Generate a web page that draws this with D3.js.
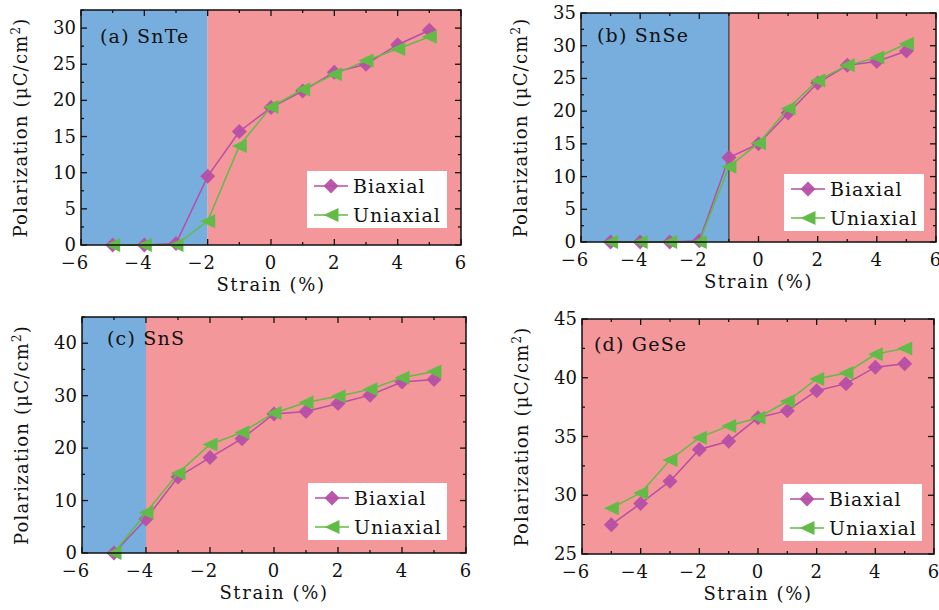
<!DOCTYPE html>
<html>
<head>
<meta charset="utf-8">
<script src="https://cdn.jsdelivr.net/npm/d3@7"></script>
<style>
  body { margin: 0; background: #fff; }
  text { font-family: "DejaVu Serif", serif; fill: #111; }
</style>
</head>
<body>
<div id="root"></div>
<script>
// Data
const strain = [-5, -4, -3, -2, -1, 0, 1, 2, 3, 4, 5];

const snteBiaxial = [0, 0, 0.2, 9.5, 15.7, 19.0, 21.3, 23.9, 25.0, 27.7, 29.7];
const snteUniaxial = [0, 0, 0, 3.3, 13.7, 19.1, 21.5, 23.6, 25.5, 27.1, 28.8];

const snseBiaxial = [0, 0, 0, 0.2, 12.9, 15.0, 19.7, 24.3, 27.0, 27.6, 29.2];
const snseUniaxial = [0, 0, 0, 0, 11.5, 15.1, 20.4, 24.7, 27.0, 28.2, 30.3];

const snsBiaxial = [0, 6.5, 14.5, 18.2, 21.8, 26.5, 27.0, 28.5, 30.1, 32.6, 33.1];
const snsUniaxial = [0, 7.7, 15.2, 20.7, 23.0, 26.7, 28.7, 29.9, 31.2, 33.4, 34.6];

const geseBiaxial = [27.5, 29.3, 31.2, 33.9, 34.6, 36.6, 37.2, 38.9, 39.5, 40.9, 41.2];
const geseUniaxial = [28.9, 30.2, 33.0, 34.9, 35.9, 36.6, 38.0, 39.9, 40.4, 42.0, 42.5];

const panelLabels = ['(a) SnTe', '(b) SnSe', '(c) SnS', '(d) GeSe'];
const transitions = [-2, -1, -4, null];
const xTicks = [-6, -4, -2, 0, 2, 4, 6];
const yDomains = [[0, 32.5], [0, 35], [0, 45], [25, 45]];
const yTickSteps = [5, 5, 10, 5];
const seriesNames = ['Biaxial', 'Uniaxial'];

// Styles
const width = 939;
const height = 610;
const blue = '#77aedd';
const pink = '#f4979a';
const magenta = '#b64fa6';
const green = '#62bb47';

const svg = d3.select('#root')
  .append('svg')
  .attr('width', width)
  .attr('height', height);

// plot frames in pixels
const frames = [
  { x: 81, y: 10, w: 380, h: 235 },
  { x: 581, y: 13, w: 355, h: 229 },
  { x: 82, y: 317, w: 384, h: 236 },
  { x: 582, y: 319, w: 352, h: 235 }
];

const labelPos = [[100, 43], [597, 42], [107, 345], [594, 351]];
const legendBox = [
  { x: 307, y: 171, w: 140, h: 57 },
  { x: 784, y: 174, w: 140, h: 57 },
  { x: 308, y: 483, w: 139, h: 57 },
  { x: 783, y: 484, w: 139, h: 57 }
];

const allData = [
  [snteBiaxial, snteUniaxial],
  [snseBiaxial, snseUniaxial],
  [snsBiaxial, snsUniaxial],
  [geseBiaxial, geseUniaxial]
];

const diamondPath = (w, h) => `M0,${-h}L${w},0L0,${h}L${-w},0Z`;
const triPath = (w, h) => `M${-w},0L${w},${-h}L${w},${h}Z`;

function drawMarker(g, kind, x, y) {
  g.append('path')
    .attr('d', kind === 0 ? diamondPath(7.5, 7.5) : triPath(7.5, 7))
    .attr('transform', `translate(${x},${y})`)
    .attr('fill', kind === 0 ? magenta : green)
    .attr('opacity', kind === 0 ? 0.95 : 1);
}

function drawPanel(i) {
  const f = frames[i];
  const g = svg.append('g').attr('transform', `translate(${f.x},${f.y})`);

  const x = d3.scaleLinear().domain([-6, 6]).range([0, f.w]);
  const y = d3.scaleLinear().domain(yDomains[i]).range([f.h, 0]);

  // background regions
  const t = transitions[i];
  if (t !== null) {
    g.append('rect')
      .attr('x', 0).attr('y', 0)
      .attr('width', x(t)).attr('height', f.h)
      .attr('fill', blue);
  }
  g.append('rect')
    .attr('x', t !== null ? x(t) : 0).attr('y', 0)
    .attr('width', t !== null ? f.w - x(t) : f.w).attr('height', f.h)
    .attr('fill', pink);
  if (t !== null && i === 1) {
    g.append('line')
      .attr('x1', x(t)).attr('x2', x(t))
      .attr('y1', 0).attr('y2', f.h)
      .attr('stroke', '#222').attr('stroke-width', 1);
  }

  // ticks (inward, all sides)
  const [y0, y1] = yDomains[i];
  const step = yTickSteps[i];
  const yMajor = d3.range(Math.ceil(y0 / step) * step, y1 + 0.001, step);
  const yMinor = d3.range(y0 + step / 2, y1 + 0.001, step).filter(v => yMajor.indexOf(v) < 0);
  const xMinor = d3.range(-5, 6, 2);

  const tk = g.append('g').attr('stroke', '#111').attr('stroke-width', 1.3);
  xTicks.forEach(v => {
    tk.append('line').attr('x1', x(v)).attr('x2', x(v)).attr('y1', f.h).attr('y2', f.h - 6);
    tk.append('line').attr('x1', x(v)).attr('x2', x(v)).attr('y1', 0).attr('y2', 6);
  });
  xMinor.forEach(v => {
    tk.append('line').attr('x1', x(v)).attr('x2', x(v)).attr('y1', f.h).attr('y2', f.h - 3);
    tk.append('line').attr('x1', x(v)).attr('x2', x(v)).attr('y1', 0).attr('y2', 3);
  });
  yMajor.forEach(v => {
    tk.append('line').attr('x1', 0).attr('x2', 6).attr('y1', y(v)).attr('y2', y(v));
    tk.append('line').attr('x1', f.w).attr('x2', f.w - 6).attr('y1', y(v)).attr('y2', y(v));
  });
  yMinor.forEach(v => {
    tk.append('line').attr('x1', 0).attr('x2', 3).attr('y1', y(v)).attr('y2', y(v));
    tk.append('line').attr('x1', f.w).attr('x2', f.w - 3).attr('y1', y(v)).attr('y2', y(v));
  });

  // tick labels
  g.append('g').selectAll('text')
    .data(xTicks)
    .join('text')
      .attr('x', d => x(d) - (d < 0 ? 6 : 0))
      .attr('y', f.h + 24)
      .attr('text-anchor', 'middle')
      .style('font-size', '18px')
      .style('letter-spacing', '1px')
      .text(d => d3.format('d')(d));

  g.append('g').selectAll('text')
    .data(yMajor)
    .join('text')
      .attr('x', -5)
      .attr('y', d => y(d) + 6)
      .attr('text-anchor', 'end')
      .style('font-size', '18px')
      .text(d => d);

  // axis titles
  g.append('text')
    .attr('x', f.w / 2)
    .attr('y', f.h + 46)
    .attr('text-anchor', 'middle')
    .style('font-size', '18px')
    .style('letter-spacing', '1.6px')
    .text('Strain (%)');

  const yt = g.append('text')
    .attr('transform', `translate(${-54},${f.h / 2}) rotate(-90)`)
    .attr('text-anchor', 'middle')
    .style('font-size', '18px')
    .style('letter-spacing', '1.2px');
  yt.append('tspan').text('Polarization (μC/cm');
  yt.append('tspan').attr('dy', -7).style('font-size', '12px').text('2');
  yt.append('tspan').attr('dy', 7).text(')');

  // series
  allData[i].forEach((vals, k) => {
    const pts = strain.map((s, j) => [s, vals[j]]);
    const col = k === 0 ? magenta : green;
    g.append('path')
      .datum(pts)
      .attr('fill', 'none')
      .attr('stroke', col)
      .attr('stroke-width', 1.5)
      .attr('d', d3.line().x(d => x(d[0])).y(d => y(d[1])));
    const mg = g.append('g');
    pts.forEach(d => drawMarker(mg, k, x(d[0]), y(d[1])));
  });

  // frame
  g.append('rect')
    .attr('width', f.w).attr('height', f.h)
    .attr('fill', 'none')
    .attr('stroke', '#111')
    .attr('stroke-width', 1.5);

  // panel label
  svg.append('text')
    .attr('x', labelPos[i][0])
    .attr('y', labelPos[i][1])
    .style('font-size', '19px')
    .style('letter-spacing', '1.2px')
    .text(panelLabels[i]);

  // legend
  const lb = legendBox[i];
  const lg = svg.append('g').attr('transform', `translate(${lb.x},${lb.y})`);
  lg.append('rect').attr('width', lb.w).attr('height', lb.h).attr('fill', '#fff');
  seriesNames.forEach((name, k) => {
    const ly = 15 + k * 29;
    const col = k === 0 ? magenta : green;
    lg.append('line')
      .attr('x1', 7).attr('x2', 41)
      .attr('y1', ly).attr('y2', ly)
      .attr('stroke', col).attr('stroke-width', 1.5);
    drawMarker(lg, k, 24, ly);
    lg.append('text')
      .attr('x', 46)
      .attr('y', ly + 7)
      .style('font-size', '19px')
      .style('letter-spacing', '1px')
      .text(name);
  });
}

[0, 1, 2, 3].forEach(drawPanel);
</script>
</body>
</html>
